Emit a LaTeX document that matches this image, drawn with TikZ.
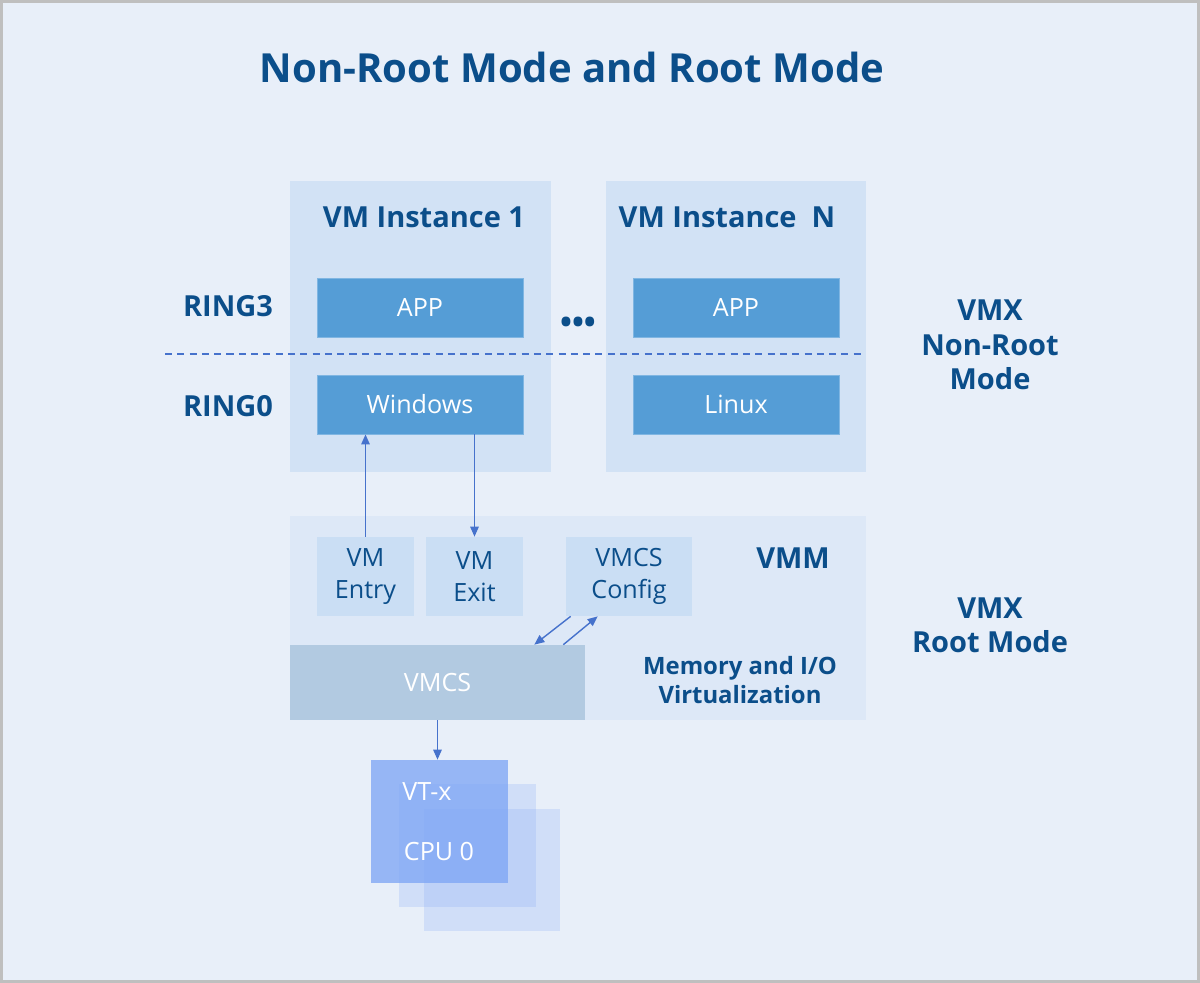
\documentclass[tikz,border=0pt]{standalone}
\usepackage{fontspec}
\setmainfont{Open Sans}
\usetikzlibrary{positioning,calc,arrows.meta}
\definecolor{bgc}{HTML}{E8EFF9}
\definecolor{edgec}{HTML}{BFBFBF}
\definecolor{ink}{HTML}{0B4E8A}
\definecolor{vmpanel}{HTML}{D2E2F5}
\definecolor{vmmpanel}{HTML}{DDE8F7}
\definecolor{appc}{HTML}{559DD6}
\definecolor{appedge}{HTML}{80B6E2}
\definecolor{ctlc}{HTML}{CADEF4}
\definecolor{vmcsc}{HTML}{B2CAE1}
\definecolor{cpuc}{HTML}{7FA6F5}
\definecolor{wirec}{HTML}{4672CC}
\tikzset{
  wire/.style    = {line width=0.8pt, draw=wirec, -{Triangle[length=2mm,width=1.7mm]}},
  ringline/.style= {line width=0.75pt, draw=wirec, dash pattern=on 4pt off 3pt},
  panel/.style   = {fill=vmpanel, inner sep=0pt},
  appbox/.style  = {fill=appc, draw=appedge, line width=0.5pt, inner sep=0pt,
                    minimum width=4.12cm, minimum height=1.18cm,
                    text=white, font=\fontsize{14.3}{17}\selectfont},
  ctlbox/.style  = {fill=ctlc, inner sep=0pt, minimum height=1.58cm, align=center,
                    text=ink, font=\fontsize{14.3}{18}\selectfont},
  cpubox/.style  = {fill=cpuc, inner sep=0pt, minimum width=2.74cm, minimum height=2.46cm},
  lbl/.style     = {text=ink, font=\bfseries\fontsize{16.5}{19.5}\selectfont, align=center,
                    inner sep=0pt},
  lbls/.style    = {text=ink, font=\bfseries\fontsize{13.6}{17}\selectfont, align=center,
                    inner sep=0pt},
  wlbl/.style    = {text=white, font=\fontsize{14.3}{17}\selectfont, inner sep=0pt},
}

\begin{document}
\begin{tikzpicture}[x=0.02cm,y=-0.02cm]
  \fill[bgc] (0,0) rectangle (1200,983);
  \draw[edgec, line width=1.7pt] (1.5,1.5) rectangle (1198.5,981.5);
  \node[text=ink, font=\bfseries\fontsize{22.8}{26}\selectfont] (title) at (572,67) {Non-Root Mode and Root Mode};

  \node[panel, minimum width=5.22cm, minimum height=5.82cm] (vm1) at (420.5,326.5) {};
  \node[panel, minimum width=5.2cm, minimum height=5.82cm] (vmn) at (736,326.5) {};
  \node[lbl] (vm1t) at (424,217) {VM Instance 1};
  \node[lbl] (vmnt) at (727,217) {VM Instance\ \ N};
  \node[appbox] (app1) at (420,307.5) {APP};
  \node[appbox] (appn) at (736,307.5) {APP};
  \node[appbox] (win) at (420,404.5) {Windows};
  \node[appbox] (lnx) at (736,404.5) {Linux};
  \node[lbl, font=\bfseries\fontsize{18}{20}\selectfont] (dots) at (578,325) {\symbol{"2022}\symbol{"2022}\symbol{"2022}};
  \coordinate (dl) at (165,354);
  \coordinate (dr) at (866,354);
  \draw[ringline] (dl) -- (dr);
  \node[lbl] (ring3) at (228,306) {RING3};
  \node[lbl] (ring0) at (228,406) {RING0};
  \node[lbl] (nonroot) at (990,345) {VMX\\Non-Root\\Mode};

  \node[fill=vmmpanel, inner sep=0pt, minimum width=11.52cm, minimum height=4.08cm] (vmm) at (578,618) {};
  \node[ctlbox, minimum width=1.94cm] (entry) at (365.5,576.5) {VM\\Entry};
  \node[ctlbox, minimum width=1.94cm] (exit) at (474.5,576.5) {VM\\Exit};
  \node[ctlbox, minimum width=2.52cm] (cfg) at (629,576.5) {VMCS\\Config};
  \node[lbl] (vmmt) at (793,558) {VMM};
  \node[fill=vmcsc, inner sep=0pt, minimum width=5.9cm, minimum height=1.5cm] (vmcs) at (437.5,682.5) {};
  \node[wlbl] (vmcst) at (vmcs) {VMCS};
  \node[lbls] (memio) at (740,680) {Memory and I/O\\Virtualization};
  \node[lbl] (root) at (990,625) {VMX\\Root Mode};

  \draw[wire] (entry.north) -- (entry.north |- win.south);
  \draw[wire] (win.south -| exit.north) -- (exit.north);
  \draw[wire] ($(cfg.south west)+(5,0)$) -- ($(vmcs.north east)+(-51,0)$);
  \draw[wire] ($(vmcs.north east)+(-22,0)$) -- ($(cfg.south west)+(32,0)$);

  \node[cpubox, opacity=0.22] (cpu3) at (492,870) {};
  \node[cpubox, opacity=0.22] (cpu2) at (467.5,845.5) {};
  \node[cpubox, opacity=0.78] (cpu1) at (439.5,821.5) {};
  \draw[wire] (vmcs.south) -- (vmcs.south |- cpu1.north);
  \node[wlbl] (vtx) at (427,792) {VT-x};
  \node[wlbl] (cpu0) at (439,852) {CPU 0};
\end{tikzpicture}
\end{document}
